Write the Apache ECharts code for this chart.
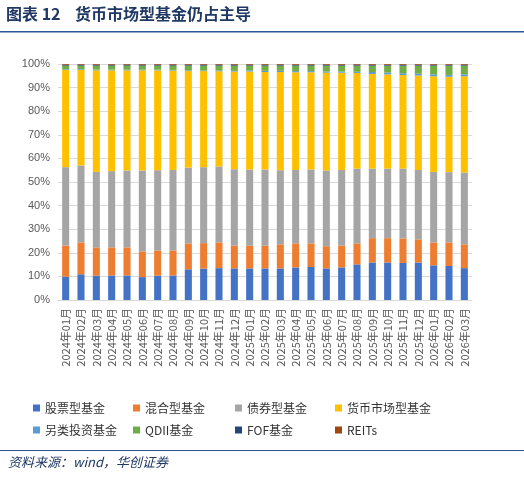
<!DOCTYPE html><html><head><meta charset="utf-8"><script src="https://cdn.jsdelivr.net/npm/echarts@6/dist/echarts.min.js"></script></head><body style="margin:0"><div id="c" style="width:524px;height:481px"></div><script>
const months=[];for(const y of [2024,2025]){for(let m=1;m<=12;m++)months.push(y+'年'+String(m).padStart(2,'0')+'月');}months.push('2026年01月','2026年02月','2026年03月');
const stock=[9.9,10.9,10.3,10.4,10.4,9.7,10.3,10.4,13.0,13.3,13.5,13.4,13.4,13.4,13.4,13.8,14.0,13.4,13.8,15.1,15.9,15.9,15.7,15.9,14.7,14.4,13.5];
const mixed=[13.2,13.5,12.0,11.9,11.9,10.9,10.7,10.6,11.0,10.8,10.9,9.7,9.6,9.6,10.2,10.2,10.0,9.4,9.3,8.9,10.3,10.3,10.4,9.8,9.7,10.0,10.1];
const bond=[33.2,32.6,32.0,32.3,32.6,34.3,34.0,34.1,32.1,32.2,32.2,32.3,32.3,32.3,31.4,31.1,31.3,32.1,32.0,31.7,29.5,29.5,29.6,29.4,29.9,29.8,30.4];
const money=[41.2,40.5,43.0,42.7,42.4,42.4,42.3,42.1,40.9,40.7,40.3,41.4,41.5,41.3,41.6,41.4,41.2,41.4,41.2,40.5,40.1,39.9,39.6,40.0,40.5,40.4,40.8];
const alt=[0.3,0.3,0.3,0.3,0.3,0.3,0.3,0.3,0.3,0.3,0.3,0.3,0.5,0.5,0.5,0.5,0.5,0.5,0.5,0.5,0.8,0.8,0.8,0.8,0.8,0.8,0.8];
const qdii=[1.5,1.5,1.7,1.7,1.7,1.7,1.7,1.8,2.0,2.0,2.1,2.2,2.0,2.2,2.2,2.3,2.3,2.5,2.5,2.6,2.7,2.9,3.2,3.4,3.7,3.9,3.7];
const fof=Array(27).fill(0.4);
const reits=Array(27).fill(0.3);
const names=['股票型基金','混合型基金','债券型基金','货币市场型基金','另类投资基金','QDII基金','FOF基金','REITs'];
const colors=['#4472C4','#ED7D31','#A5A5A5','#FFC000','#5B9BD5','#70AD47','#264478','#9E480E'];
const datas=[stock,mixed,bond,money,alt,qdii,fof,reits];
const lx=[28,128,230,330],ly=[397,419];
const legends=names.map((n,i)=>({data:[n],left:lx[i%4],top:ly[Math.floor(i/4)],itemWidth:7,itemHeight:7,icon:'rect',textStyle:{fontSize:12,color:'#333',fontFamily:'Noto Sans CJK SC'}}));
const c=echarts.init(document.getElementById('c'));
c.setOption({animation:false,color:colors,legend:legends,
grid:{left:58,right:52,top:64,bottom:181},
xAxis:{type:'category',data:months,axisTick:{show:false},axisLine:{lineStyle:{color:'#d9d9d9'}},axisLabel:{rotate:90,fontSize:11,color:'#595959',interval:0,fontFamily:'Noto Sans CJK SC'}},
yAxis:{type:'value',min:0,max:100,interval:10,axisLabel:{formatter:'{value}%',fontSize:11,color:'#595959'},splitLine:{lineStyle:{color:'#d9d9d9'}}},
series:names.map((n,i)=>({name:n,type:'bar',stack:'a',barWidth:'46%',data:datas[i],itemStyle:{color:colors[i]}})),
graphic:[
{type:'text',left:6,top:6,style:{text:'图表 12    货币市场型基金仍占主导',fontSize:16,fontWeight:'bold',fill:'#1F3864',fontFamily:'Noto Sans CJK SC'}},
{type:'rect',shape:{x:0,y:31,width:524,height:1.5},style:{fill:'#2F5597'}},
{type:'rect',shape:{x:0,y:450,width:524,height:1},style:{fill:'#2F5597'}},
{type:'text',left:8,top:456,style:{text:'资料来源：wind，华创证券',fontSize:13,fontStyle:'italic',fill:'#1F3864',fontFamily:'Noto Sans CJK SC'}}
]});
</script></body></html>
